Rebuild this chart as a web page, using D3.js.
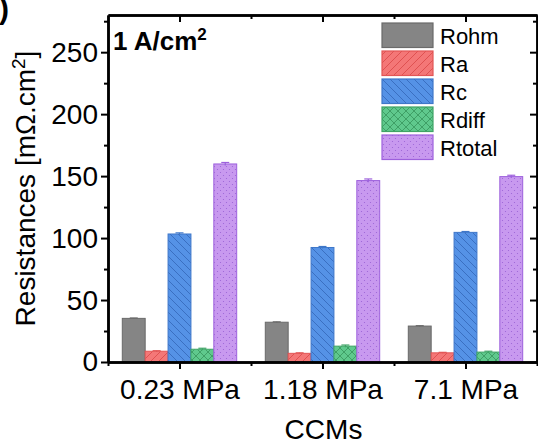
<!DOCTYPE html>
<html>
<head>
<meta charset="utf-8">
<script src="https://cdn.jsdelivr.net/npm/d3@7"></script>
<style>
	body{margin:0;background:#fff}
	svg text{font-family:"Liberation Sans", Arial, sans-serif}
</style>
</head>
<body>
<svg id="chart" width="538" height="445"></svg>
<script>
// values
const categories = ["0.23 MPa", "1.18 MPa", "7.1 MPa"]
const seriesNames = ["Rohm", "Ra", "Rc", "Rdiff", "Rtotal"]
const rohm = [35.2, 32.1, 29.0]
const ra = [8.7, 7.0, 7.4]
const rc = [103.3, 92.4, 104.6]
const rdiff = [10.3, 12.8, 8.0]
const rtotal = [159.8, 146.4, 149.6]
const errRohm = [0.3, 0.3, 0.3]
const errRa = [0.4, 0.4, 0.4]
const errRc = [0.9, 0.8, 0.7]
const errRdiff = [0.8, 0.9, 0.7]
const errRtotal = [1.2, 1.3, 1.1]
const yTicks = [0, 50, 100, 150, 200, 250]
const yMinor = [25, 75, 125, 175, 225, 275]

const seriesValues = [rohm, ra, rc, rdiff, rtotal]
const seriesErrors = [errRohm, errRa, errRc, errRdiff, errRtotal]
const styles = [
	{fill: "#858585", stroke: "#6a6a6a", pat: null},
	{fill: "#f47777", stroke: "#e25555", pat: "pRa"},
	{fill: "#5592e6", stroke: "#3f77c9", pat: "pRc"},
	{fill: "#5fc98d", stroke: "#3fa466", pat: "pRdiff"},
	{fill: "#c899ef", stroke: "#9d60dc", pat: "pRtotal"}
]

const svg = d3.select("#chart")
const pL = 108, pR = 537, pT = 15, pB = 362
const x = d3.scaleLinear().domain([0.5, 3.5]).range([pL, pR])
const y = d3.scaleLinear().domain([0, 280]).range([pB, pT])
const barW = 0.16

// fill patterns
const defs = svg.append("defs")
function hatch(id, s, fill, dir){
	let p = defs.append("pattern").attr("id", id)
		.attr("width", 8).attr("height", 8)
		.attr("patternUnits", "userSpaceOnUse")
	p.append("rect").attr("width", 8).attr("height", 8).attr("fill", fill)
	let paths = dir === "/" ? "M0,8 L8,0 M-2,2 L2,-2 M6,10 L10,6"
		: dir === "\\" ? "M0,0 L8,8 M-2,6 L2,10 M6,-2 L10,2"
		: "M0,8 L8,0 M-2,2 L2,-2 M6,10 L10,6 M0,0 L8,8 M-2,6 L2,10 M6,-2 L10,2"
	p.append("path").attr("d", paths).attr("stroke", s).attr("stroke-width", 0.8).attr("fill", "none")
}
hatch("pRa", "#d94848", "#f47777", "/")
hatch("pRc", "#3466b8", "#5592e6", "\\")
hatch("pRdiff", "#37945c", "#5fc98d", "x")
let dots = defs.append("pattern").attr("id", "pRtotal")
	.attr("width", 6).attr("height", 6)
	.attr("patternUnits", "userSpaceOnUse")
dots.append("rect").attr("width", 6).attr("height", 6).attr("fill", "#c899ef")
dots.append("circle").attr("cx", 1.5).attr("cy", 1.5).attr("r", 0.6).attr("fill", "#9a62d6")
dots.append("circle").attr("cx", 4.5).attr("cy", 4.5).attr("r", 0.6).attr("fill", "#9a62d6")

function fillOf(i){
	return styles[i].pat ? "url(#" + styles[i].pat + ")" : styles[i].fill
}

// bars
seriesValues.forEach((vals, i)=>{
	let off = (i - 2) * barW
	svg.append("g").selectAll("rect")
		.data(vals)
		.join("rect")
		.attr("x", (d, k)=>x(k + 1 + off - barW / 2))
		.attr("width", x(barW) - x(0))
		.attr("y", d=>y(d))
		.attr("height", d=>y(0) - y(d))
		.attr("fill", fillOf(i))
		.attr("stroke", styles[i].stroke)
		.attr("stroke-width", 1)
	// error bars
	let eg = svg.append("g").attr("stroke", styles[i].stroke).attr("stroke-width", 1.2)
	vals.forEach((d, k)=>{
		let cx = x(k + 1 + off)
		let e = seriesErrors[i][k]
		eg.append("line").attr("x1", cx).attr("x2", cx).attr("y1", y(d - e)).attr("y2", y(d + e))
		eg.append("line").attr("x1", cx - 4).attr("x2", cx + 4).attr("y1", y(d + e)).attr("y2", y(d + e))
	})
})

// axes
function styleAxis(g){
	g.select(".domain").attr("stroke-width", 2.5)
	g.selectAll(".tick line").attr("stroke-width", 2)
	g.selectAll(".tick text").attr("font-size", 28).attr("fill", "#000")
		.attr("font-family", "'Liberation Sans', Arial, sans-serif")
}
svg.append("g").attr("transform", `translate(${pL},0)`)
	.call(d3.axisLeft(y).tickValues(yMinor).tickSize(4).tickSizeOuter(0).tickFormat(""))
	.call(styleAxis)
svg.append("g").attr("transform", `translate(${pL},0)`)
	.call(d3.axisLeft(y).tickValues(yTicks).tickSize(7).tickPadding(3).tickSizeOuter(0))
	.call(styleAxis)
svg.append("g").attr("transform", `translate(${pR},0)`)
	.call(d3.axisRight(y).tickValues(yMinor).tickSize(-4).tickSizeOuter(0).tickFormat(""))
	.call(styleAxis)
svg.append("g").attr("transform", `translate(${pR},0)`)
	.call(d3.axisRight(y).tickValues(yTicks).tickSize(-7).tickSizeOuter(0).tickFormat(""))
	.call(styleAxis)
svg.append("g").attr("transform", `translate(0,${pB})`)
	.call(d3.axisBottom(x).tickValues([0.5, 1.5, 2.5, 3.5]).tickSize(4).tickSizeOuter(0).tickFormat(""))
	.call(styleAxis)
svg.append("g").attr("transform", `translate(0,${pB})`)
	.call(d3.axisBottom(x).tickValues([1, 2, 3]).tickSize(7).tickPadding(10).tickSizeOuter(0)
		.tickFormat(d=>categories[d - 1]))
	.call(styleAxis)
svg.append("g").attr("transform", `translate(0,${pT})`)
	.call(d3.axisTop(x).tickValues([1.5, 2.5]).tickSize(-4).tickSizeOuter(0).tickFormat(""))
	.call(styleAxis)
svg.append("g").attr("transform", `translate(0,${pT})`)
	.call(d3.axisTop(x).tickValues([1, 2, 3]).tickSize(-7).tickSizeOuter(0).tickFormat(""))
	.call(styleAxis)

// axis titles
let yl = svg.append("text")
	.attr("transform", "rotate(-90)")
	.attr("x", -(pT + pB) / 2).attr("y", 35)
	.attr("text-anchor", "middle").attr("font-size", 28)
yl.append("tspan").text("Resistances [mΩ.cm")
yl.append("tspan").attr("font-size", 19).attr("dy", -10).text("2")
yl.append("tspan").attr("dy", 10).text("]")
svg.append("text")
	.attr("x", (pL + pR) / 2 + 1).attr("y", 439)
	.attr("text-anchor", "middle").attr("font-size", 28)
	.text("CCMs")
let ti = svg.append("text")
	.attr("x", 113).attr("y", 50)
	.attr("font-size", 26).attr("font-weight", "bold")
ti.append("tspan").text("1 A/cm")
ti.append("tspan").attr("font-size", 17).attr("dy", -10).text("2")
svg.append("text")
	.attr("x", 9).attr("y", 19)
	.attr("text-anchor", "end").attr("font-size", 30).attr("font-weight", "bold")
	.text(")")

// legend
let lg = svg.append("g").attr("transform", "translate(382,23)")
seriesNames.forEach((n, i)=>{
	lg.append("rect")
		.attr("x", 0).attr("y", i * 28)
		.attr("width", 51).attr("height", 24.5)
		.attr("fill", fillOf(i))
		.attr("stroke", styles[i].stroke).attr("stroke-width", 1.2)
	lg.append("text")
		.attr("x", 58).attr("y", i * 28 + 20.5)
		.attr("font-size", 22)
		.text(n)
})
</script>
</body>
</html>
